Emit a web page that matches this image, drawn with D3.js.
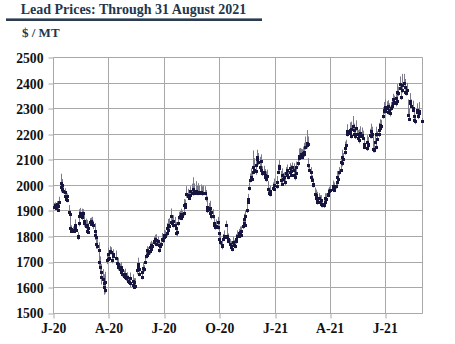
<!DOCTYPE html>
<html>
<head>
<meta charset="utf-8">
<script src="https://cdn.jsdelivr.net/npm/d3@7"></script>
<style>
  html, body { margin: 0; padding: 0; background: #ffffff; }
  svg { display: block; }
</style>
</head>
<body>
<svg id="chart" width="455" height="344"></svg>
<script>
// LME closed (UK bank holidays) over the period shown
const holidays = [
  "2020-01-01", "2020-04-10", "2020-04-13", "2020-05-08", "2020-05-25",
  "2020-08-31", "2020-12-25", "2020-12-28", "2021-01-01", "2021-04-02",
  "2021-04-05", "2021-05-03", "2021-05-31", "2021-08-30"
];

const yTicks = [1500, 1600, 1700, 1800, 1900, 2000, 2100, 2200, 2300, 2400, 2500];

// Daily closing price, $/MT, one row per month
const close = [
  1915,1922,1908,1925,1903,1918,1932,1993,2008,1998,1985,1978,1972,1958,1945,1955,1940,1893,1885,1832,1826,1818, // Jan 20
  1825,1818,1830,1845,1822,1800,1795,1850,1880,1890,1885,1875,1890,1860,1850,1840,1820,1845,1815,1830,           // Feb 20
  1855,1848,1860,1850,1842,1820,1805,1795,1770,1760,1745,1700,1680,1640,1660,1630,1615,1600,1590,1620,1705,1710, // Mar 20
  1730,1715,1740,1738,1705,1720,1728,1715,1695,1680,1690,1670,1680,1660,1665,1650,1645,1640,1650,1635,           // Apr 20
  1640,1625,1620,1635,1615,1625,1610,1620,1600,1605,1665,1680,1690,1670,1650,1640,1660,1675,1670,                // May 20
  1700,1720,1725,1745,1735,1740,1755,1765,1750,1760,1780,1775,1790,1785,1770,1780,1765,1745,1760,1770,1790,1785, // Jun 20
  1795,1805,1800,1810,1830,1825,1845,1840,1880,1855,1850,1845,1860,1845,1810,1830,1815,1850,1875,1880,1870,1885,1880, // Jul 20
  1890,1920,1915,1925,1965,1960,1955,1950,1960,1975,1970,1985,1970,1968,1972,1975,1968,1970,1972,1970,           // Aug 20
  1972,1970,1970,1970,1970,1970,1950,1915,1900,1905,1890,1910,1880,1895,1880,1850,1845,1835,1840,1855,1835,1810, // Sep 20
  1790,1775,1765,1760,1790,1800,1795,1845,1800,1795,1790,1780,1770,1755,1760,1750,1775,1765,1760,1790,1780,1800, // Oct 20
  1810,1800,1815,1805,1820,1840,1850,1865,1845,1880,1900,1945,1935,1990,2020,2030,2025,2050,2070,2060,2055,      // Nov 20
  2080,2100,2110,2090,2070,2095,2060,2050,2045,2050,2030,2040,2025,2035,1985,1970,1965,1975,1990,2000,1985,      // Dec 20
  1995,2010,2050,2075,2065,2020,2040,2005,2025,2030,2010,2045,2060,2040,2030,2050,2065,2040,2055,2070,           // Jan 21
  2060,2040,2030,2045,2070,2085,2105,2115,2110,2120,2110,2125,2120,2130,2150,2165,2155,2160,2080,2060,           // Feb 21
  2050,2030,2020,2005,2000,1965,1950,1960,1945,1935,1950,1935,1925,1940,1920,1925,1920,1935,1950,1945,1965,1960,1975, // Mar 21
  1980,1985,1995,1990,1980,1995,2010,2030,2025,2050,2060,2090,2085,2110,2100,2130,2145,2155,2200,2210,           // Apr 21
  2215,2205,2190,2220,2230,2200,2215,2190,2225,2200,2185,2175,2190,2205,2195,2190,2185,2150,2160,                // May 21
  2170,2145,2155,2160,2195,2210,2190,2200,2140,2135,2170,2200,2150,2180,2200,2215,2235,2225,2230,2270,2295,2290, // Jun 21
  2305,2290,2300,2310,2285,2295,2280,2300,2310,2320,2335,2325,2320,2340,2330,2365,2360,2395,2380,2345,2370,2390, // Jul 21
  2400,2385,2365,2360,2370,2275,2260,2330,2320,2310,2300,2295,2270,2255,2250,2285,2295,2270,2290,2280,2252       // Aug 21
];

// Daily high above the close, $/MT
const upWick = [
  14,10,18,12,20,15,22,30,36,25,18,20,15,16,24,12,18,28,14,60,16,12,
  12,18,10,20,25,15,12,40,25,20,22,18,15,30,20,28,35,18,25,20,
  15,20,12,25,18,30,25,20,35,28,30,45,40,35,30,40,35,30,55,40,25,30,
  25,30,20,18,35,22,20,28,20,18,25,22,18,20,15,24,20,16,22,18,
  18,20,15,22,18,25,20,15,28,30,22,20,25,18,15,20,18,22,16,
  20,18,25,15,22,18,20,16,22,15,18,20,15,22,25,18,20,28,15,20,22,18,
  20,18,22,25,20,18,22,30,28,20,25,18,22,30,45,25,20,28,20,18,25,22,20,
  20,25,22,18,30,25,20,22,28,20,35,45,30,38,25,40,30,25,35,28,
  30,25,20,28,22,25,30,40,20,25,20,28,22,18,25,20,22,18,25,20,28,22,
  25,30,20,25,18,22,20,15,35,28,20,22,18,25,20,30,22,20,28,18,25,22,
  18,20,22,25,18,20,25,22,30,20,25,18,30,20,25,35,28,40,65,45,30,
  30,25,28,35,40,25,30,22,28,25,30,22,28,25,30,20,25,22,20,25,18,
  20,25,30,22,28,35,25,30,22,20,28,25,20,30,22,25,20,28,22,18,
  25,30,20,28,22,30,25,28,35,22,30,25,28,35,40,50,35,30,25,20,
  20,25,18,22,20,25,30,22,28,20,18,25,22,20,25,22,20,25,18,22,20,25,18,
  20,18,22,20,25,20,22,25,28,20,25,22,30,28,25,30,25,22,35,28,
  30,25,35,28,40,30,25,35,28,25,30,22,28,25,30,25,28,35,22,
  25,30,22,28,25,30,22,28,55,30,25,28,22,30,25,28,22,30,25,35,30,28,
  30,25,28,22,30,25,28,25,30,28,22,25,30,28,35,30,25,30,40,35,28,45,
  35,30,28,25,30,60,40,30,28,25,30,28,35,30,25,28,25,30,35,28,10
];

// Daily low below the close, $/MT
const downWick = [
  8,10,6,12,5,9,10,22,15,10,8,12,10,8,6,12,8,14,45,12,9,6,
  8,6,12,10,5,8,10,12,8,15,10,12,8,10,14,12,8,10,6,12,
  10,8,12,10,15,12,20,15,20,10,15,25,20,30,12,25,20,30,15,20,15,12,
  15,10,12,10,12,8,15,10,12,15,8,10,12,8,15,10,8,10,6,12,
  10,12,8,10,15,8,12,10,6,10,15,12,10,14,8,10,12,8,10,
  10,8,12,10,8,12,10,8,10,12,8,10,12,8,10,12,8,10,12,8,10,12,
  10,8,12,10,12,8,10,12,15,10,8,12,10,12,8,10,15,10,12,10,8,12,10,
  10,12,8,10,15,12,10,8,10,12,8,10,12,8,10,12,8,10,6,8,
  10,8,12,10,8,10,15,12,10,12,10,8,15,10,12,10,8,10,12,8,10,12,
  12,10,8,12,10,8,12,10,8,12,10,8,12,10,8,10,12,10,8,12,10,8,
  10,8,12,10,8,12,10,8,10,12,10,15,8,12,10,12,10,8,12,10,15,
  12,10,15,12,10,12,8,15,10,12,10,8,12,10,25,12,10,8,10,12,8,
  10,12,8,10,12,15,10,8,12,10,12,8,10,12,8,10,12,8,10,12,
  10,8,12,10,8,12,10,8,12,10,8,12,10,8,12,10,12,8,15,10,
  12,10,8,12,10,8,12,10,8,12,10,8,12,10,8,12,10,8,10,12,10,8,12,
  10,8,12,10,8,10,12,8,10,12,8,10,12,10,8,12,10,8,10,12,
  12,10,8,15,12,10,8,10,12,8,10,12,10,8,12,10,8,10,12,
  10,12,8,10,12,10,8,10,12,8,10,12,10,8,12,10,8,10,12,10,8,12,
  12,10,8,12,10,8,12,10,8,12,10,8,12,10,8,10,12,10,8,12,10,8,
  10,12,8,10,12,8,10,12,10,8,12,10,8,10,12,10,8,12,10,8,5
];

// ---- trading calendar ----
const keyFmt = d3.timeFormat("%Y-%m-%d");
const holidaySet = new Set(holidays);
const startDate = new Date(2020, 0, 1);
const endDate = new Date(2021, 8, 1);
const tradingDays = d3.timeDay.range(startDate, endDate)
  .filter(d => d.getDay() > 0 && d.getDay() < 6 && !holidaySet.has(keyFmt(d)));

const count = Math.min(tradingDays.length, close.length, upWick.length, downWick.length);
const series = d3.range(count).map(i => ({
  date: tradingDays[i],
  close: close[i],
  high: close[i] + upWick[i],
  low: close[i] - downWick[i]
}));

// ---- layout ----
const svg = d3.select("#chart");
const plotL = 53.3, plotR = 422.3, plotT = 57.3, plotB = 312.6;
const x = d3.scaleTime().domain([startDate, endDate]).range([plotL, plotR]);
const y = d3.scaleLinear().domain([1500, 2500]).range([plotB, plotT]);
const crisp = v => Math.round(v) + 0.5;

const serif = "'Liberation Serif', 'Times New Roman', Times, serif";
const gridColor = "#a8a8a8";
const headColor = "#23364b";

// Title block
svg.append("text")
  .attr("x", 20.7).attr("y", 14)
  .attr("font-family", serif).attr("font-weight", "bold").attr("font-size", 14)
  .attr("fill", headColor)
  .text("Lead Prices: Through 31 August 2021");

svg.append("rect")
  .attr("x", 6).attr("y", 18.4).attr("width", 256).attr("height", 2.6)
  .attr("fill", "#2b3c52");

svg.append("text")
  .attr("x", 22).attr("y", 36.5)
  .attr("font-family", serif).attr("font-weight", "bold").attr("font-size", 13)
  .attr("fill", headColor)
  .text("$ / MT");

// Quarterly ticks on the time axis
const quarterTicks = d3.timeMonth.every(3).range(startDate, endDate);
const monthName = d3.timeFormat("%b");
const yearShort = d3.timeFormat("%y");
const xLabel = d => monthName(d).charAt(0) + "-" + yearShort(d);

// Grid
const grid = svg.append("g").attr("stroke", gridColor).attr("stroke-width", 1);
yTicks.forEach(v => {
  grid.append("line")
    .attr("x1", crisp(plotL)).attr("x2", crisp(plotR))
    .attr("y1", crisp(y(v))).attr("y2", crisp(y(v)));
});
quarterTicks.concat([endDate]).forEach(d => {
  grid.append("line")
    .attr("x1", crisp(x(d))).attr("x2", crisp(x(d)))
    .attr("y1", crisp(plotT)).attr("y2", crisp(plotB));
});

// Axes
const yAxis = svg.append("g")
  .attr("transform", `translate(${crisp(plotL)},0)`)
  .call(d3.axisLeft(y).tickValues(yTicks).tickSize(5).tickPadding(5).tickFormat(d3.format("d")));
yAxis.select(".domain").remove();
yAxis.selectAll(".tick line").attr("stroke", gridColor)
  .attr("transform", d => `translate(0,${crisp(y(d)) - y(d)})`);
yAxis.selectAll(".tick text")
  .attr("font-family", serif).attr("font-weight", "bold").attr("font-size", 13.7)
  .attr("fill", "#111").attr("dy", "0.38em");

const xAxis = svg.append("g")
  .attr("transform", `translate(0,${crisp(plotB)})`)
  .call(d3.axisBottom(x).tickValues(quarterTicks).tickSize(5).tickPadding(4.5).tickFormat(xLabel));
xAxis.select(".domain").remove();
xAxis.selectAll(".tick line").attr("stroke", gridColor)
  .attr("transform", d => `translate(${crisp(x(d)) - x(d)},0)`);
xAxis.selectAll(".tick text")
  .attr("font-family", serif).attr("font-weight", "bold").attr("font-size", 13.7)
  .attr("fill", "#111");

// High-low bars
svg.append("g")
  .selectAll("line")
  .data(series)
  .join("line")
  .attr("x1", d => crisp(x(d.date)))
  .attr("x2", d => crisp(x(d.date)))
  .attr("y1", d => y(d.high))
  .attr("y2", d => y(d.low))
  .attr("stroke", "#7c7c8c")
  .attr("stroke-width", 1);

// Close markers
svg.append("g")
  .selectAll("rect")
  .data(series)
  .join("rect")
  .attr("x", d => Math.round(x(d.date)) - 1)
  .attr("y", d => Math.round(y(d.close)) - 1)
  .attr("width", 3)
  .attr("height", 3)
  .attr("fill", "#15153f");
</script>
</body>
</html>
